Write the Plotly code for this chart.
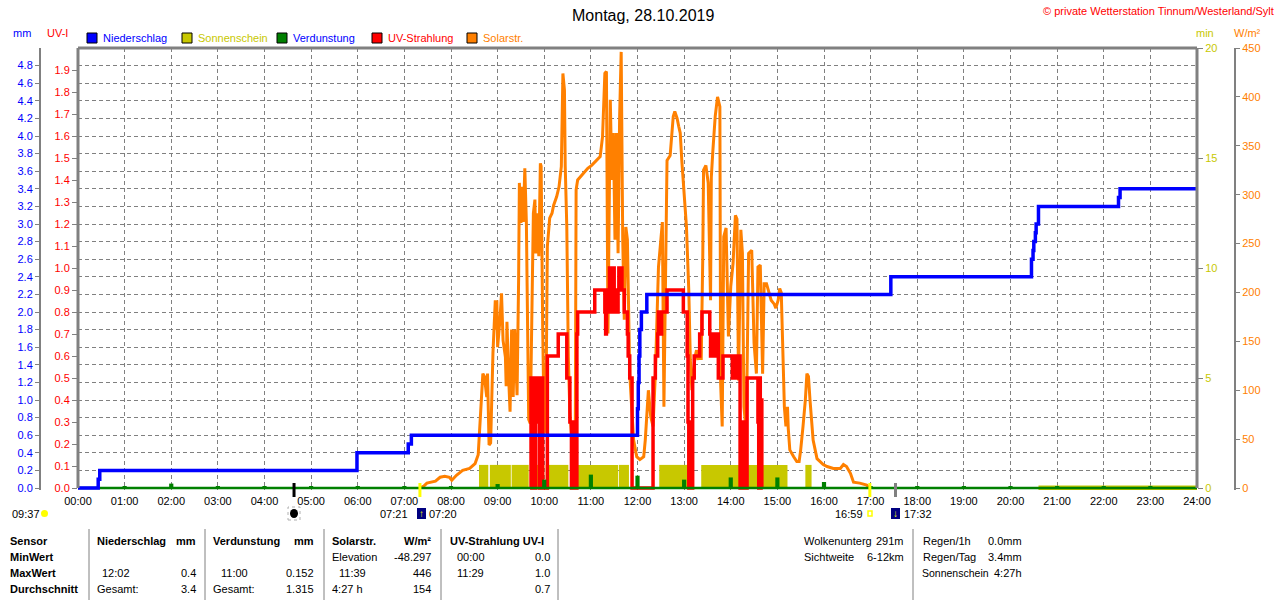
import plotly.graph_objects as go

# Tagesgrafik Wetterstation - Montag 28.10.2019

W, H = 1280, 600
PL, PR, PT, PB = 78, 1197, 48, 490  # Plotbereich in Pixeln

def px(x):
    return x / W

def py(y):
    return (PB - y) / (PB - PT)

FONT = "Liberation Sans, Arial, sans-serif"
BLUE = "#0000ff"
RED = "#ff0000"
ORANGE = "#ff8000"
OLIVE = "#c8c800"
GREEN = "#008000"
GRAY = "#808080"

# --- Daten (Zeit in Minuten seit 00:00) ---
# Niederschlag, Summe in mm
rain_min = [0, 26, 28, 359, 425, 429, 720, 721, 722, 723, 725, 732, 1046,
            1227, 1229, 1230, 1232, 1233, 1236, 1339, 1341, 1440]
rain_mm = [0.0, 0.1, 0.2, 0.4, 0.5, 0.6, 0.9, 1.2, 1.5, 1.8, 2.0, 2.2, 2.4,
           2.6, 2.7, 2.8, 2.9, 3.0, 3.2, 3.3, 3.4, 3.4]

# Sonnenschein, Intervalle und Minuten
sun_start = [516, 530, 558, 589, 602, 643, 696, 748, 802, 856, 936]
sun_end = [528, 557, 580, 600, 631, 695, 709, 786, 854, 913, 944]
sun_val = [1.05, 1.05, 1.05, 1.05, 1.05, 1.05, 1.05, 1.05, 1.05, 1.05, 1.05]
sun_zero_min = [1236, 1440]
sun_zero_val = [0, 0]

# Verdunstung pro Stunde in mm
verd_hour = [1, 2, 3, 4, 5, 6, 7, 8, 9, 10, 11, 12, 13, 14, 15, 16, 17, 18,
             19, 20, 21, 22, 23]
verd_mm = [0.02, 0.05, 0.02, 0.02, 0.02, 0.02, 0.02, 0.02, 0.045, 0.095,
           0.152, 0.14, 0.095, 0.12, 0.12, 0.068, 0.02, 0.02, 0.02, 0.02,
           0.02, 0.02, 0.02]

# UV-Strahlung UV-I
uv_min = [582, 583, 584, 585, 586, 587, 588, 589, 591, 592, 594, 595, 596,
          597, 598, 604, 618, 629, 633, 635, 636, 637, 638, 640, 642, 643,
          665, 678, 679, 680, 681, 682, 683, 684, 685, 686, 687, 688, 689,
          690, 691, 692, 693, 694, 695, 696, 697, 698, 700, 703, 707, 708,
          710, 713, 740, 743, 746, 747, 748, 749, 750, 751, 758, 779, 784,
          785, 786, 787, 788, 789, 790, 791, 793, 800, 803, 813, 814, 815,
          816, 817, 818, 819, 820, 821, 822, 823, 824, 830, 834, 842, 843,
          844, 845, 846, 847, 848, 850, 852, 853, 854, 856, 858, 861, 875,
          876, 877, 878, 879, 880, 881]
uv_val = [0.0, 0.5, 0.0, 0.5, 0.3, 0.5, 0.0, 0.5, 0.3, 0.5, 0.0, 0.5, 0.3,
          0.5, 0.0, 0.6, 0.7, 0.5, 0.3, 0.0, 0.3, 0.0, 0.3, 0.0, 0.7, 0.8,
          0.9, 0.8, 0.7, 0.9, 0.8, 0.9, 0.8, 1.0, 0.9, 1.0, 0.8, 0.9, 1.0,
          0.8, 0.9, 0.8, 0.9, 0.8, 0.9, 1.0, 0.9, 1.0, 0.9, 0.8, 0.7, 0.6,
          0.5, 0.0, 0.5, 0.6, 0.7, 0.8, 0.7, 0.8, 0.7, 0.8, 0.9, 0.8, 0.6,
          0.3, 0.0, 0.3, 0.0, 0.3, 0.0, 0.5, 0.6, 0.7, 0.8, 0.7, 0.6, 0.7,
          0.6, 0.7, 0.6, 0.7, 0.6, 0.7, 0.6, 0.7, 0.5, 0.6, 0.6, 0.5, 0.6,
          0.5, 0.6, 0.5, 0.6, 0.5, 0.6, 0.0, 0.3, 0.0, 0.3, 0.0, 0.5, 0.3,
          0.0, 0.5, 0.0, 0.4, 0.0, 0.0]

# Solarstrahlung W/m2
solar_min = [440, 445, 449, 453, 460, 466, 472, 478, 481, 487, 495, 504, 511,
             515, 517, 518, 520, 521, 523, 526, 527, 529, 531, 532, 534, 537,
             538, 539, 540, 543, 545, 547, 550, 551, 552, 554, 556, 558, 560,
             562, 565, 567, 568, 570, 571, 573, 575, 577, 578, 580, 582, 584,
             586, 588, 589, 591, 593, 595, 596, 598, 600, 602, 604, 607, 610,
             612, 616, 619, 622, 624, 626, 627, 629, 631, 633, 635, 637, 640,
             641, 643, 646, 650, 656, 661, 667, 672, 675, 678, 680, 681, 682,
             685, 687, 689, 691, 693, 695, 697, 699, 701, 703, 705, 707, 710,
             713, 715, 719, 723, 728, 730, 734, 737, 740, 743, 747, 750, 752,
             754, 756, 758, 762, 764, 766, 768, 771, 773, 775, 777, 779, 781,
             783, 786, 788, 790, 792, 794, 796, 798, 800, 802, 804, 805, 808,
             811, 814, 815, 817, 820, 823, 826, 827, 829, 831, 834, 837, 840,
             843, 846, 848, 850, 853, 855, 857, 860, 863, 867, 870, 873, 875,
             878, 881, 883, 886, 889, 892, 896, 898, 901, 903, 905, 907, 909,
             911, 913, 914, 916, 921, 925, 928, 930, 933, 936, 938, 940, 942,
             944, 946, 951, 955, 959, 964, 972, 981, 985, 989, 994, 998, 1006,
             1015, 1019]
solar_w = [0, 2, 5, 6, 7, 11, 12, 11, 8, 13, 18, 20, 25,
           34, 60, 73, 100, 117, 114, 93, 117, 44, 46, 90, 138, 192,
           162, 192, 144, 172, 199, 151, 134, 104, 170, 117, 78, 162, 93,
           162, 95, 213, 312, 271, 308, 272, 327, 271, 206, 70, 66, 175,
           281, 295, 240, 281, 237, 332, 329, 162, 56, 66, 247, 276, 281,
           289, 298, 308, 329, 424, 407, 329, 267, 134, 76, 56, 66, 66,
           305, 315, 318, 322, 327, 330, 335, 339, 359, 424, 426, 267, 158,
           397, 315, 363, 254, 363, 240, 380, 446, 254, 172, 267, 254, 117,
           76, 49, 32, 29, 32, 49, 100, 73, 63, 117, 226, 260, 272,
           83, 200, 335, 340, 363, 380, 385, 378, 370, 363, 335, 312, 281,
           267, 202, 131, 100, 120, 134, 141, 131, 144, 131, 237, 325, 330,
           312, 192, 318, 345, 380, 400, 390, 107, 63, 257, 266, 155, 206,
           230, 279, 275, 110, 264, 240, 83, 56, 240, 243, 148, 117, 226,
           228, 117, 209, 209, 200, 192, 188, 184, 192, 204, 200, 144, 83,
           63, 83, 61, 39, 32, 27, 27, 39, 63, 90, 117, 114, 90,
           66, 49, 30, 27, 24, 22, 20, 20, 24, 22, 15, 6, 5,
           3, 0]

# Ereignisse an der Zeitachse (Mond, Sonnenauf-/untergang, Daemmerung)
event_min = [278, 440, 1019, 1052]
event_col = ["black", "yellow", "yellow", GRAY]

hour_ticks = list(range(25))
hour_text = ["%02d:00" % h for h in hour_ticks]

fig = go.Figure()

# Sonnenschein (min)
fig.add_bar(
    x=[(s + e) / 120 for s, e in zip(sun_start, sun_end)],
    y=sun_val, width=[(e - s) / 60 for s, e in zip(sun_start, sun_end)],
    marker=dict(color=OLIVE, line=dict(width=0)), yaxis="y",
)
fig.add_scatter(x=[m / 60 for m in sun_zero_min], y=sun_zero_val, mode="lines",
                line=dict(color=OLIVE, width=5), yaxis="y")

# Solarstrahlung
fig.add_scatter(x=[m / 60 for m in solar_min], y=solar_w, mode="lines",
                line=dict(color=ORANGE, width=3), yaxis="y2")

# UV
fig.add_scatter(x=[m / 60 for m in uv_min], y=uv_val, mode="lines",
                line=dict(color=RED, width=3.5, shape="hv"), yaxis="y3")

# Verdunstung
fig.add_bar(x=verd_hour, y=verd_mm, width=0.09,
            marker=dict(color=GREEN, line=dict(width=0)), yaxis="y4")
fig.add_scatter(x=[hour_ticks[0], hour_ticks[-1]], y=[0, 0], mode="lines",
                line=dict(color=GREEN, width=2.5), yaxis="y4")

# Niederschlag
fig.add_scatter(x=[m / 60 for m in rain_min], y=rain_mm, mode="lines",
                line=dict(color=BLUE, width=3.5, shape="hv"), yaxis="y4")

tickfont = dict(family=FONT, size=11)
dom = [px(PL), px(PR)]

def lo(top):
    # unterer Rand 2 px unter Null, damit die Nulllinie ganz sichtbar bleibt
    return -top * (PB - 488) / (488 - PT)

fig.update_layout(
    width=W, height=H, showlegend=False, barmode="overlay",
    margin=dict(l=0, r=0, t=PT, b=H - PB, autoexpand=False),
    paper_bgcolor="white", plot_bgcolor="white",
    font=dict(family=FONT, size=11, color="black"),
    hovermode=False,
    xaxis=dict(domain=dom, range=[0, 24], tickvals=hour_ticks, ticktext=hour_text,
               showgrid=True, gridcolor=GRAY, griddash="4px,3px", gridwidth=1,
               zeroline=False, showline=False, ticks="", tickfont=tickfont,
               ticklabelstandoff=3, automargin=False),
    yaxis=dict(range=[lo(20), 20], tickvals=[0, 5, 10, 15, 20], side="right",
               anchor="x", showgrid=False, zeroline=False, ticks="outside",
               ticklen=5, tickcolor=GRAY, automargin=False,
               tickfont=dict(color=OLIVE, **tickfont)),
    yaxis2=dict(range=[lo(450), 450], dtick=50, side="right", overlaying="y",
                anchor="free", position=px(1235), showgrid=False, zeroline=False,
                showline=True, linecolor=GRAY, linewidth=2, ticks="outside",
                ticklen=4, tickcolor=GRAY, automargin=False,
                tickfont=dict(color=ORANGE, **tickfont)),
    yaxis3=dict(range=[lo(2), 2], tickvals=[i / 10 for i in range(20)],
                tickformat=".1f", side="left", overlaying="y", anchor="x",
                showgrid=False, zeroline=False, ticks="outside", ticklen=5,
                tickcolor=GRAY, automargin=False,
                tickfont=dict(color=RED, **tickfont)),
    yaxis4=dict(range=[lo(5), 5], tickvals=[i / 5 for i in range(25)],
                tickformat=".1f", side="left", overlaying="y", anchor="free",
                position=px(40), showgrid=True, gridcolor=GRAY, griddash="4px,3px",
                gridwidth=1, zeroline=False, showline=True, linecolor=GRAY,
                linewidth=2, ticks="outside", ticklen=4, tickcolor=GRAY,
                automargin=False, tickfont=dict(color=BLUE, **tickfont)),
)

shapes = []
# Rahmen links, oben, rechts
for x0, y0, x1, y1 in [(PL, 488, PL, PT), (PL, PT, PR, PT), (PR, PT, PR, 488)]:
    shapes.append(dict(type="line", xref="paper", yref="paper", x0=px(x0), y0=py(y0),
                       x1=px(x1), y1=py(y1), line=dict(color=GRAY, width=3)))
# Ereignis-Striche an der Zeitachse
for m, c in zip(event_min, event_col):
    shapes.append(dict(type="line", xref="x", yref="paper", x0=m / 60, x1=m / 60,
                       y0=py(483), y1=py(497), line=dict(color=c, width=3)))
# Tabellen-Trennlinien
for x in [89, 205, 324, 441, 558, 913]:
    shapes.append(dict(type="line", xref="paper", yref="paper", x0=px(x), x1=px(x),
                       y0=py(529), y1=py(600), line=dict(color=GRAY, width=1)))

ann = []

def txt(x, y, s, color="black", size=11, anchor="left", bold=False):
    ann.append(dict(x=px(x), y=py(y), xref="paper", yref="paper", showarrow=False,
                    text="<b>%s</b>" % s if bold else s, xanchor=anchor,
                    yanchor="middle", font=dict(family=FONT, size=size, color=color)))

# Titel und Copyright
txt(643, 15, "Montag, 28.10.2019", size=16, anchor="center")
txt(1276, 11, "© private Wetterstation Tinnum/Westerland/Sylt", color=RED, anchor="right")

# Achsentitel
txt(22, 33, "mm", color=BLUE, anchor="center")
txt(57, 33, "UV-I", color=RED, anchor="center")
txt(1205, 33, "min", color=OLIVE, anchor="center")
txt(1247, 33, "W/m²", color=ORANGE, anchor="center")

# Legende
legend = [("Niederschlag", BLUE, BLUE, 87), ("Sonnenschein", OLIVE, OLIVE, 182),
          ("Verdunstung", GREEN, BLUE, 277), ("UV-Strahlung", RED, RED, 372),
          ("Solarstr.", ORANGE, ORANGE, 467)]
for name, fill, tcol, x in legend:
    shapes.append(dict(type="rect", xref="paper", yref="paper", x0=px(x), x1=px(x + 10),
                       y0=py(43), y1=py(33), fillcolor=fill, line=dict(color="black", width=1)))
    txt(x + 14, 38, name, color=tcol)

# Sonne/Mond-Zeiten unter der Achse
txt(10, 514, "09:37")
shapes.append(dict(type="circle", xref="paper", yref="paper", x0=px(41), x1=px(48),
                   y0=py(517), y1=py(510), fillcolor="yellow", line=dict(width=0)))
shapes.append(dict(type="rect", xref="paper", yref="paper", x0=px(288), x1=px(300),
                   y0=py(520), y1=py(507), line=dict(color="#b0b0b0", width=1, dash="dot")))
shapes.append(dict(type="circle", xref="paper", yref="paper", x0=px(290), x1=px(298),
                   y0=py(518), y1=py(509), fillcolor="black", line=dict(width=0)))
txt(410, 514, "07:21", anchor="right")
shapes.append(dict(type="rect", xref="paper", yref="paper", x0=px(417), x1=px(426),
                   y0=py(519), y1=py(508), fillcolor="#000080", line=dict(width=0)))
txt(421.5, 513, "<b>↑</b>", color="yellow", size=10, anchor="center")
txt(427, 514, "07:20")
txt(865, 514, "16:59", anchor="right")
shapes.append(dict(type="rect", xref="paper", yref="paper", x0=px(868), x1=px(872),
                   y0=py(516), y1=py(511), line=dict(color="yellow", width=1.5)))
shapes.append(dict(type="rect", xref="paper", yref="paper", x0=px(891), x1=px(900),
                   y0=py(519), y1=py(508), fillcolor="#000080", line=dict(width=0)))
txt(895.5, 513, "<b>↓</b>", color="yellow", size=10, anchor="center")
txt(902, 514, "17:32")

# Tabelle links
r1, r2, r3, r4 = 541, 557, 573, 589
for y, s in [(r1, "Sensor"), (r2, "MinWert"), (r3, "MaxWert"), (r4, "Durchschnitt")]:
    txt(8, y, s, bold=True)
txt(95, r1, "Niederschlag", bold=True)
txt(198, r1, "mm", bold=True, anchor="right")
txt(100, r3, "12:02")
txt(198, r3, "0.4", anchor="right")
txt(95, r4, "Gesamt:")
txt(198, r4, "3.4", anchor="right")
txt(211, r1, "Verdunstung", bold=True)
txt(316, r1, "mm", bold=True, anchor="right")
txt(219, r3, "11:00")
txt(316, r3, "0.152", anchor="right")
txt(211, r4, "Gesamt:")
txt(316, r4, "1.315", anchor="right")
txt(330, r1, "Solarstr.", bold=True)
txt(433, r1, "W/m²", bold=True, anchor="right")
txt(330, r2, "Elevation")
txt(433, r2, "-48.297", anchor="right")
txt(337, r3, "11:39")
txt(433, r3, "446", anchor="right")
txt(330, r4, "4:27 h")
txt(433, r4, "154", anchor="right")
txt(448, r1, "UV-Strahlung UV-I", bold=True)
txt(455, r2, "00:00")
txt(552, r2, "0.0", anchor="right")
txt(455, r3, "11:29")
txt(552, r3, "1.0", anchor="right")
txt(552, r4, "0.7", anchor="right")

# Tabelle rechts
txt(802, r1, "Wolkenunterg")
txt(906, r1, "291m", anchor="right")
txt(802, r2, "Sichtweite")
txt(906, r2, "6-12km", anchor="right")
txt(921, r1, "Regen/1h")
txt(1024, r1, "0.0mm", anchor="right")
txt(921, r2, "Regen/Tag")
txt(1024, r2, "3.4mm", anchor="right")
txt(920, r3, "Sonnenschein", size=10.5)
txt(1024, r3, "4:27h", anchor="right")

fig.update_layout(shapes=shapes, annotations=ann)
fig.write_html("out.html", config={"displayModeBar": False},
               post_script="document.body.style.margin='0';")
